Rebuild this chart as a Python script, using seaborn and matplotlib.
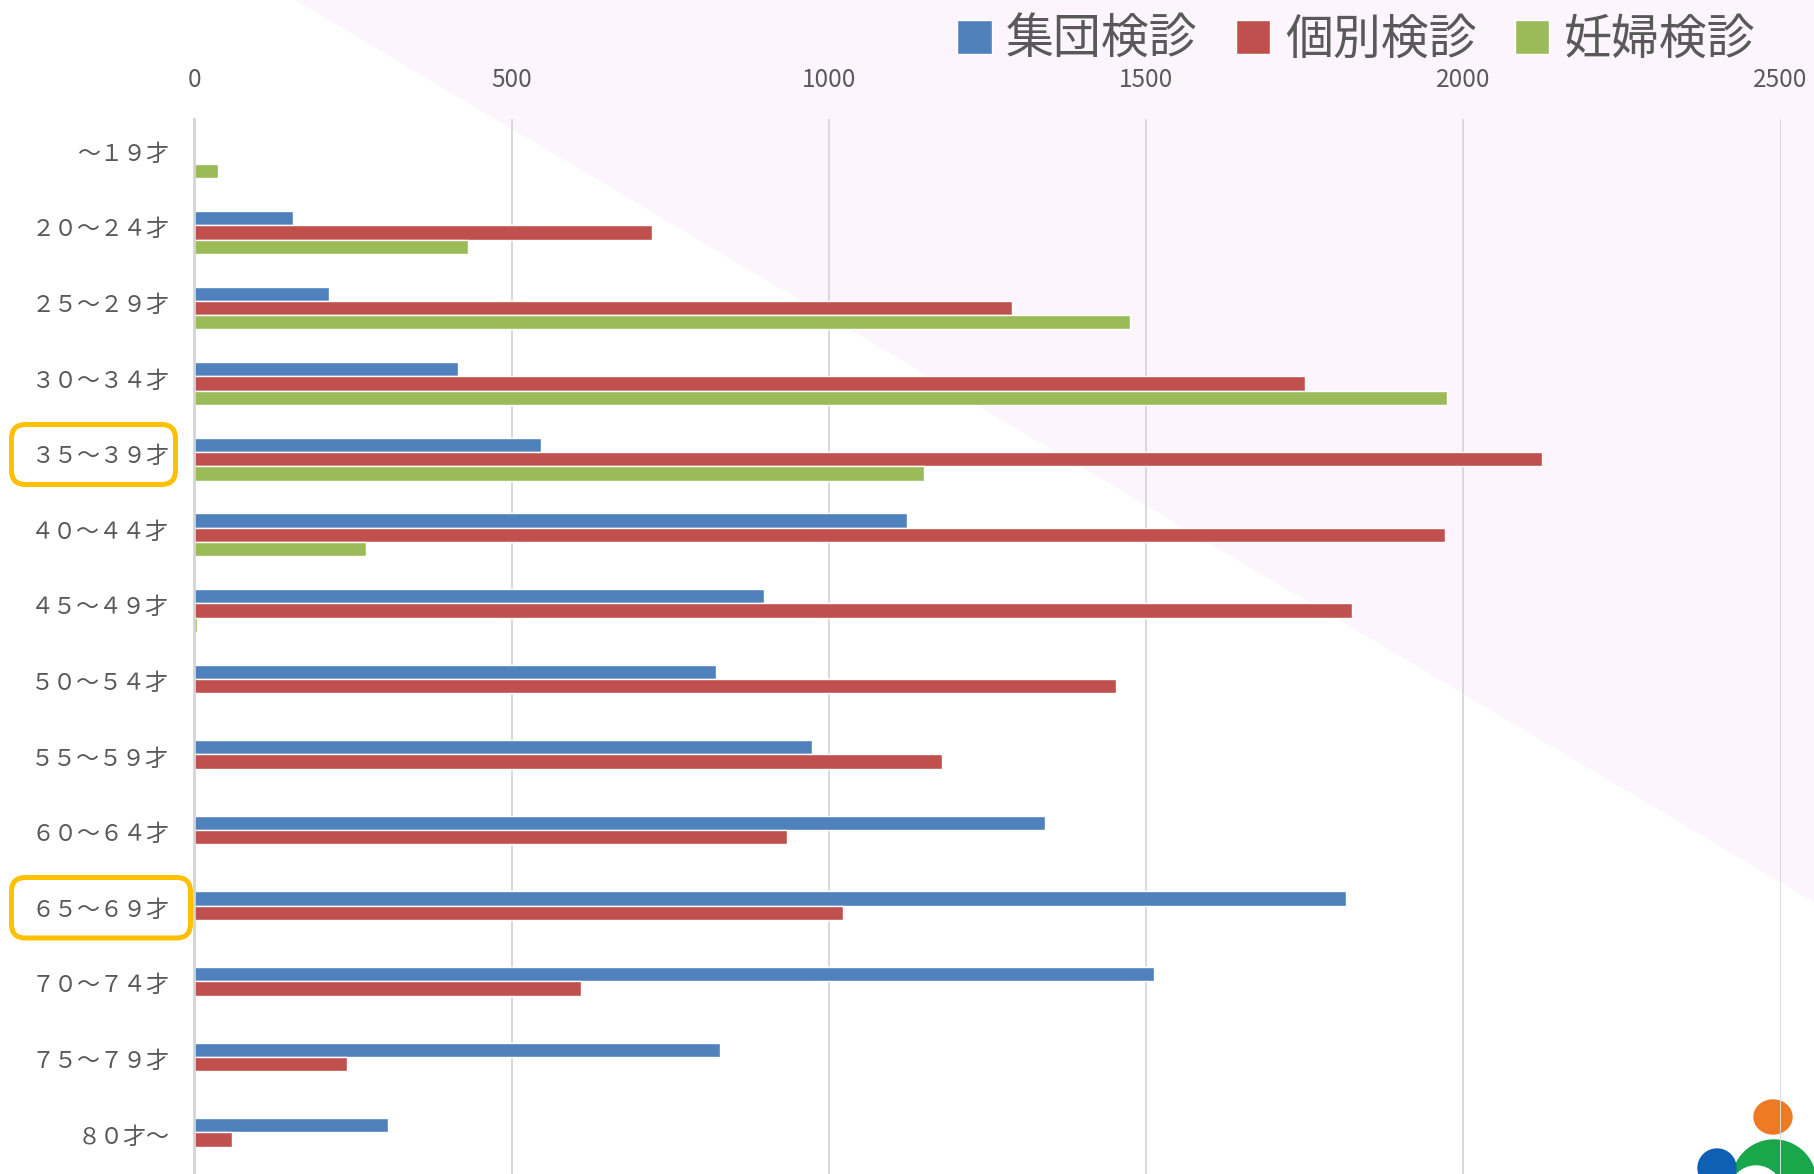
import numpy as np
import pandas as pd
import seaborn as sns
import matplotlib.pyplot as plt
import matplotlib.transforms as mtransforms
from matplotlib.patches import Polygon, FancyBboxPatch, Ellipse, Circle

# age groups and counts per examination type
ages = ['～１９才', '２０～２４才', '２５～２９才', '３０～３４才', '３５～３９才',
        '４０～４４才', '４５～４９才', '５０～５４才', '５５～５９才', '６０～６４才',
        '６５～６９才', '７０～７４才', '７５～７９才', '８０才～']
group_exam = [0, 155, 212, 416, 547, 1124, 898, 823, 973, 1341, 1815, 1512, 828, 305]
individual_exam = [0, 721, 1288, 1750, 2124, 1971, 1825, 1453, 1179, 934, 1022, 609, 241, 60]
pregnant_exam = [37, 431, 1474, 1974, 1150, 270, 4, 0, 0, 0, 0, 0, 0, 0]
series_names = ['集団検診', '個別検診', '妊婦検診']
colors = ['#4F81BD', '#C0504D', '#9BBB59']
x_ticks = [0, 500, 1000, 1500, 2000, 2500]

df = pd.DataFrame({
    'age': ages * 3,
    'series': np.repeat(series_names, len(ages)),
    'value': group_exam + individual_exam + pregnant_exam,
})

sns.set_style('white')
plt.rcParams['font.family'] = ['Noto Sans CJK JP', 'DejaVu Sans']

W, H = 1814, 1174
fig = plt.figure(figsize=(W / 100, H / 100), dpi=100)
# pixel coordinates measured from the top-left corner
px = mtransforms.Affine2D().scale(1 / W, -1 / H).translate(0, 1) + fig.transFigure

# pale pink background triangle
fig.add_artist(Polygon([(295, 0), (W, 0), (W, 902)], closed=True, transform=px,
                       facecolor='#fdf5fd', edgecolor='none', zorder=-2))

# small logo in the bottom right corner
fig.add_artist(Ellipse((1773, 1117), 38, 34, transform=px, color='#EE7A23', zorder=-1))
fig.add_artist(Circle((1774, 1182), 42, transform=px, color='#1AA64A', zorder=-1))
fig.add_artist(Circle((1756, 1192), 26, transform=px, color='white', zorder=-1))
fig.add_artist(Circle((1717, 1168), 19, transform=px, color='#0F5FB5', zorder=-1))

ax = fig.add_axes([194.3 / W, 0, 1586.2 / W, 1 - 119 / H])
ax.patch.set_alpha(0)

sns.barplot(data=df, x='value', y='age', hue='series', orient='h', palette=colors,
            saturation=1, width=0.567, ax=ax)

ax.set_xlim(0, 2500)
ax.set_ylim(13.455, -0.5)
ax.xaxis.tick_top()
ax.set_xticks(x_ticks)
ax.grid(axis='x', color='#d9d9d9', lw=1.4)
ax.set_axisbelow(True)
for s in ['top', 'right', 'bottom']:
    ax.spines[s].set_visible(False)
ax.spines['left'].set_color('#d4d4d4')
ax.spines['left'].set_linewidth(2)
ax.tick_params(axis='x', length=0, pad=18.5, labelsize=17.5, labelcolor='#595959')
ax.tick_params(axis='y', length=0, pad=18, labelsize=16.6, labelcolor='#595959')
ax.set_xlabel('')
ax.set_ylabel('')

# age labels sit a little above the centre of each bar group
lift = mtransforms.ScaledTranslation(0, 5 / 100, fig.dpi_scale_trans)
for tick in ax.yaxis.get_major_ticks():
    tick.label1.set_transform(tick.label1.get_transform() + lift)

handles, labels = ax.get_legend_handles_labels()
ax.get_legend().remove()
fig.legend(handles, labels, loc='upper right', bbox_to_anchor=(1755 / W, 1 - 15 / H),
           ncol=3, frameon=False, fontsize=34.5, handlelength=0.72, handleheight=0.72,
           handletextpad=0.3, columnspacing=0.8, borderaxespad=0, borderpad=0,
           labelcolor='#595959')

# orange highlight boxes around two age labels
for (x0, y0, w, h) in [(11.5, 424.5, 164, 60), (11.5, 877.5, 179, 60.5)]:
    fig.add_artist(FancyBboxPatch((x0, y0), w, h, boxstyle='round,pad=0,rounding_size=14',
                                  transform=px, fill=False, edgecolor='#FFC000', lw=3.6))

plt.savefig('out.png', dpi=100)
